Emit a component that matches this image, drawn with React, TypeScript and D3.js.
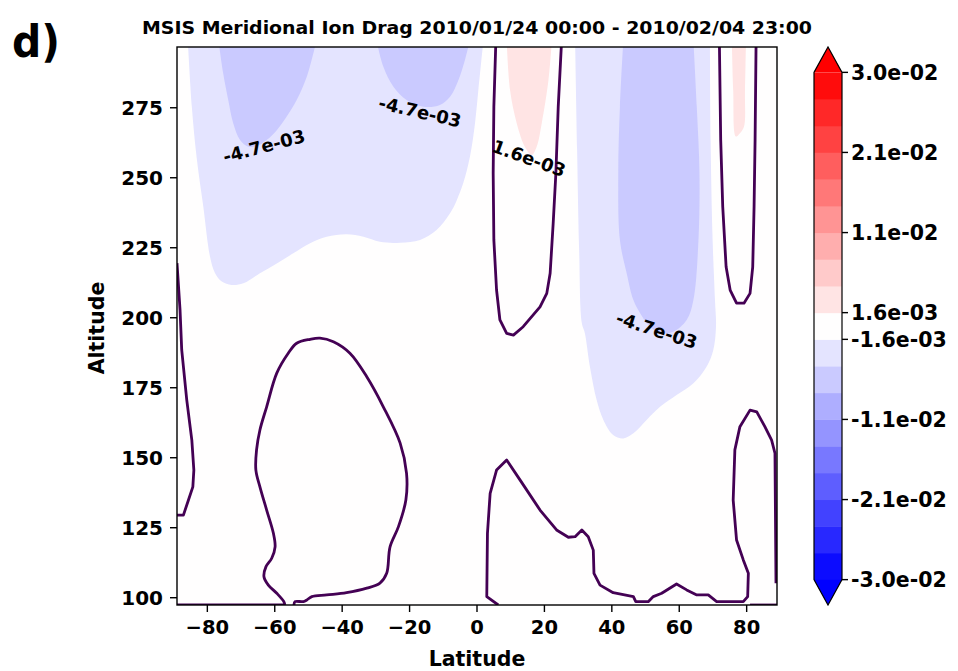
import React from "react";
import * as d3 from "d3";

type P = [number, number];

// ---------- axis / colorbar data ----------
const latTicks = [-80, -60, -40, -20, 0, 20, 40, 60, 80];
const altTicks = [100, 125, 150, 175, 200, 225, 250, 275];
const levels = [
  -0.03, -0.02684, -0.02368, -0.02053, -0.01737, -0.01421, -0.01105, -0.00789, -0.00474, -0.00158,
  0.00158, 0.00474, 0.00789, 0.01105, 0.01421, 0.01737, 0.02053, 0.02368, 0.02684, 0.03,
];
const cbarTickValues = [0.03, 0.02053, 0.01105, 0.00158, -0.00158, -0.01105, -0.02053, -0.03];
const cbarTickLabels = ["3.0e-02", "2.1e-02", "1.1e-02", "1.6e-03", "-1.6e-03", "-1.1e-02", "-2.1e-02", "-3.0e-02"];

// ---------- filled regions (lat, altitude) ----------
// value < -1.6e-03 (band 8)
const lowA: P[] = [
  [-85.8, 299], [-84.6, 275.4], [-83.2, 257.5], [-81.2, 239.7], [-79.2, 221.8], [-77.7, 215.9],
  [-75.7, 212.9], [-72.8, 211.7], [-69.3, 212.3], [-64.4, 215.9], [-59.4, 219.4], [-54.5, 223.0],
  [-49.5, 226.6], [-44.6, 228.9], [-38.7, 229.8], [-33.7, 228.9], [-28.8, 227.1], [-22.8, 226.8],
  [-16.9, 227.8], [-12.0, 231.3], [-8.0, 237.3], [-6.0, 242.0], [-4.1, 248.0], [-2.1, 257.5],
  [-0.6, 269.4], [0.4, 281.3], [1.4, 293.2], [1.9, 299],
];
const lowC: P[] = [
  [29.1, 299], [29.7, 259.9], [30.3, 224.2], [31.1, 198.1], [32.0, 194.5], [33.5, 182.5],
  [35.5, 170.6], [37.5, 163.5], [40.4, 158.1], [43.4, 156.9], [46.4, 158.7], [50.3, 163.5],
  [54.3, 168.2], [59.2, 172.4], [64.2, 176.6], [68.1, 182.5], [70.1, 188.5], [70.9, 196.8],
  [70.6, 206.3], [69.9, 227.8], [69.3, 263.5], [69.1, 299],
];
// value < -4.7e-03 (band 7)
const lowerB1: P[] = [
  [-76.7, 299], [-75.3, 287.3], [-73.8, 277.8], [-72.3, 269.4], [-70.3, 263.5], [-67.8, 261.1],
  [-65.4, 261.3], [-62.4, 263.5], [-59.4, 267.0], [-56.5, 271.8], [-53.5, 277.8], [-50.5, 286.1],
  [-47.6, 299],
];
const lowerB2: P[] = [
  [-29.8, 299], [-27.8, 289.7], [-24.8, 282.5], [-20.9, 277.8], [-15.9, 275.4], [-11.0, 276.0],
  [-8.0, 278.9], [-5.5, 284.9], [-3.6, 292.0], [-2.1, 299],
];
const lowerD: P[] = [
  [43.4, 299], [42.4, 275.4], [41.9, 251.6], [42.4, 227.8], [44.4, 215.9], [46.4, 206.3],
  [48.4, 201.6], [51.3, 196.8], [54.8, 194.4], [58.2, 195.0], [62.2, 199.2], [64.2, 206.3],
  [65.7, 227.8], [66.0, 251.6], [65.2, 275.4], [64.2, 299],
];
// value > 1.6e-03 (band 10)
const highE: P[] = [
  [8.8, 299], [9.8, 281.3], [11.8, 269.4], [14.2, 261.1], [16.2, 258.1], [17.7, 261.1],
  [19.2, 269.4], [21.2, 284.9], [22.2, 299],
];
const highF: P[] = [
  [75.6, 299], [76.0, 281.3], [76.8, 264.7], [78.0, 265.9], [79.2, 268.2], [79.5, 281.3], [79.8, 299],
];

// ---------- zero contour lines ----------
const line1: P[] = [
  [5.6, 299], [5.0, 275.4], [4.8, 251.6], [5.0, 227.8], [5.8, 209.9], [6.8, 199.2], [8.8, 194.4],
  [10.8, 193.8], [13.7, 196.8], [18.7, 203.9], [20.7, 208.7], [21.7, 215.9], [22.6, 233.7],
  [23.4, 251.6], [24.1, 275.4], [25.1, 299],
];
const line2: P[] = [
  [71.9, 299], [72.3, 263.5], [72.9, 239.7], [73.9, 218.2], [75.1, 209.9], [77.0, 205.2],
  [79.2, 205.2], [81.0, 208.7], [81.8, 218.2], [82.2, 239.7], [82.5, 263.5], [82.8, 299],
];
const line3: P[] = [
  [-89, 219.5], [-88.1, 202.8], [-87.6, 188.5], [-86.1, 170.6], [-84.6, 156.3], [-84.0, 145.6],
  [-84.3, 139.6], [-85.6, 134.9], [-87.1, 129.5], [-89, 129.5],
];
const line4: P[] = [
  [-57.0, 97.4], [-57.3, 98.6], [-59.4, 101.6], [-61.9, 104.5], [-63.2, 107.5], [-62.6, 111.1],
  [-60.9, 114.1], [-59.9, 118.2], [-60.4, 123.0], [-62.4, 131.3], [-64.4, 139.6], [-65.6, 145.6],
  [-65.4, 152.8], [-64.4, 159.9], [-62.4, 168.2], [-59.4, 180.2], [-56.0, 187.3], [-53.5, 190.9],
  [-49.5, 192.3], [-46.6, 192.7], [-42.6, 191.4], [-37.7, 187.3], [-32.7, 178.9], [-27.8, 168.2],
  [-22.8, 155.2], [-20.9, 144.4], [-21.1, 134.9], [-23.3, 125.4], [-25.8, 118.2], [-26.8, 108.7],
  [-28.8, 105.2], [-32.7, 103.4], [-38.7, 101.8], [-44.6, 101.0], [-49.0, 100.4], [-50.5, 99.2],
  [-51.5, 98.6], [-54.0, 98.6], [-54.3, 97.4],
];
const line5: P[] = [
  [6.3, 97.4], [2.9, 100.4], [3.1, 123.0], [3.9, 137.3], [5.8, 145.6], [8.8, 149.2], [12.8, 142.0],
  [18.7, 131.3], [23.6, 124.2], [27.1, 121.6], [29.1, 121.8], [31.1, 124.2], [33.0, 121.8],
  [34.5, 117.0], [34.7, 108.7], [36.5, 104.5], [40.4, 101.8], [46.4, 100.4], [47.1, 98.6],
  [50.8, 98.6], [52.3, 100.4], [54.8, 101.6], [59.2, 104.9], [62.2, 102.8], [65.2, 101.0],
  [68.6, 101.0], [71.1, 98.6], [79.0, 98.6], [80.3, 100.4], [80.5, 108.7], [79.0, 113.5],
  [77.0, 120.6], [76.0, 134.9], [76.5, 152.8], [78.0, 161.1], [81.0, 167.0], [83.0, 166.4],
  [85.4, 161.1], [87.4, 156.3], [88.4, 151.6], [88.7, 105.2],
];
const bottomLeft: P[] = [[-89, 97.4], [-57.0, 97.4]];
const bottomRight: P[] = [[81.0, 97.4], [89, 97.4]];

const contourLabels = [
  { text: "-4.7e-03", lat: -63.2, alt: 261.3, angle: -15 },
  { text: "-4.7e-03", lat: -16.9, alt: 273.6, angle: 13 },
  { text: "1.6e-03", lat: 15.4, alt: 257.0, angle: 20 },
  { text: "-4.7e-03", lat: 53.3, alt: 195.6, angle: 18 },
];

// ---------- layout ----------
const W = 958;
const H = 671;
const PL = 177, PR = 777, PT = 47, PB = 605;
const CB_X = 814, CB_W = 28;
const FONT = "'DejaVu Sans', sans-serif";
const LINE_COLOR = "#440154";

// matplotlib bwr colormap, 256 entries
function bwr(t: number): string {
  const idx = Math.min(255, Math.max(0, Math.floor(t * 256)));
  const q = idx / 255;
  if (q < 0.5) {
    const v = Math.round(2 * q * 255);
    return `rgb(${v},${v},255)`;
  }
  const v = Math.round(2 * (1 - q) * 255);
  return `rgb(255,${v},${v})`;
}
const nBands = levels.length - 1;
const bandColor = (i: number) => bwr((i + 0.5) / nBands);

export default function App() {
  const x = d3.scaleLinear().domain([-89, 89]).range([PL, PR]);
  const y = d3.scaleLinear().domain([97.4, 296.7]).range([PB, PT]);
  const ext = (PB - PT) / 1.1 * 0.05;
  const yc = d3.scaleLinear().domain([levels[0], levels[levels.length - 1]]).range([PB - ext, PT + ext]);

  const smooth = d3.line<P>().x((d) => x(d[0])).y((d) => y(d[1])).curve(d3.curveCatmullRom.alpha(0.5));
  const lin = d3.line<P>().x((d) => x(d[0])).y((d) => y(d[1])).curve(d3.curveLinear);
  const area = (pts: P[]) => (smooth(pts) || "") + "Z";

  const fills: { pts: P[]; band: number }[] = [
    { pts: lowA, band: 8 },
    { pts: lowC, band: 8 },
    { pts: lowerB1, band: 7 },
    { pts: lowerB2, band: 7 },
    { pts: lowerD, band: 7 },
    { pts: highE, band: 10 },
    { pts: highF, band: 10 },
  ];
  const lines: { pts: P[]; smooth: boolean }[] = [
    { pts: line1, smooth: false },
    { pts: line2, smooth: false },
    { pts: line3, smooth: false },
    { pts: line4, smooth: true },
    { pts: line5, smooth: false },
    { pts: bottomLeft, smooth: false },
    { pts: bottomRight, smooth: false },
  ];

  const cbTop = yc(levels[levels.length - 1]);
  const cbBot = yc(levels[0]);
  const cx = CB_X + CB_W / 2;

  return (
    <svg width={W} height={H} style={{ position: "absolute", left: 0, top: 0, background: "#fff" }} fontFamily={FONT}>
      <defs>
        <clipPath id="plotClip">
          <rect x={PL} y={PT} width={PR - PL} height={PB - PT} />
        </clipPath>
      </defs>

      {/* panel letter */}
      <text x={12} y={57} fontSize={44} fontWeight="bold" textLength={48} lengthAdjust="spacingAndGlyphs">d)</text>

      {/* title */}
      <text x={(PL + PR) / 2} y={34} fontSize={18} fontWeight="bold" textAnchor="middle" textLength={670} lengthAdjust="spacingAndGlyphs">
        MSIS Meridional Ion Drag 2010/01/24 00:00 - 2010/02/04 23:00
      </text>

      {/* plot background (neutral band) */}
      <rect x={PL} y={PT} width={PR - PL} height={PB - PT} fill={bandColor(9)} />

      <g clipPath="url(#plotClip)">
        {fills.map((f, i) => (
          <path key={"f" + i} d={area(f.pts)} fill={bandColor(f.band)} stroke="none" />
        ))}
        {lines.map((l, i) => (
          <path key={"l" + i} d={(l.smooth ? smooth(l.pts) : lin(l.pts)) || ""} fill="none" stroke={LINE_COLOR} strokeWidth={2.8} strokeLinejoin="round" />
        ))}
      </g>

      {contourLabels.map((c, i) => (
        <text
          key={"cl" + i}
          x={x(c.lat)}
          y={y(c.alt)}
          transform={`rotate(${c.angle},${x(c.lat)},${y(c.alt)})`}
          fontSize={18}
          fontWeight="bold"
          textAnchor="middle"
          dominantBaseline="central"
        >
          {c.text}
        </text>
      ))}

      {/* spines */}
      <rect x={PL} y={PT} width={PR - PL} height={PB - PT} fill="none" stroke="#000" strokeWidth={1.4} />

      {/* x axis */}
      {latTicks.map((t) => (
        <g key={"xt" + t}>
          <line x1={x(t)} x2={x(t)} y1={PB} y2={PB + 7} stroke="#000" strokeWidth={1.4} />
          <text x={x(t)} y={634} fontSize={19.5} fontWeight="bold" textAnchor="middle">
            {t < 0 ? "\u2212" + Math.abs(t) : String(t)}
          </text>
        </g>
      ))}
      <text x={(PL + PR) / 2} y={666} fontSize={20.5} fontWeight="bold" textAnchor="middle">Latitude</text>

      {/* y axis */}
      {altTicks.map((t) => (
        <g key={"yt" + t}>
          <line x1={PL - 7} x2={PL} y1={y(t)} y2={y(t)} stroke="#000" strokeWidth={1.4} />
          <text x={163} y={y(t)} dy="0.36em" fontSize={20} fontWeight="bold" textAnchor="end">{t}</text>
        </g>
      ))}
      <text transform={`translate(104,${(PT + PB) / 2 + 2}) rotate(-90)`} fontSize={20.5} fontWeight="bold" textAnchor="middle">Altitude</text>

      {/* colorbar */}
      {levels.slice(0, -1).map((lv, i) => (
        <rect key={"cb" + i} x={CB_X} y={yc(levels[i + 1])} width={CB_W} height={yc(lv) - yc(levels[i + 1]) + 0.5} fill={bandColor(i)} />
      ))}
      <path d={`M${CB_X},${cbTop} L${cx},${PT} L${CB_X + CB_W},${cbTop} Z`} fill={bwr(1)} />
      <path d={`M${CB_X},${cbBot} L${cx},${PB} L${CB_X + CB_W},${cbBot} Z`} fill={bwr(0)} />
      <path
        d={`M${CB_X},${cbTop} L${cx},${PT} L${CB_X + CB_W},${cbTop} L${CB_X + CB_W},${cbBot} L${cx},${PB} L${CB_X},${cbBot} Z`}
        fill="none"
        stroke="#000"
        strokeWidth={1.2}
      />
      {cbarTickValues.map((v, i) => (
        <g key={"ct" + i}>
          <line x1={CB_X + CB_W} x2={CB_X + CB_W + 6} y1={yc(v)} y2={yc(v)} stroke="#000" strokeWidth={1.4} />
          <text x={851} y={yc(v)} dy="0.36em" fontSize={20.5} fontWeight="bold">{cbarTickLabels[i]}</text>
        </g>
      ))}
    </svg>
  );
}
